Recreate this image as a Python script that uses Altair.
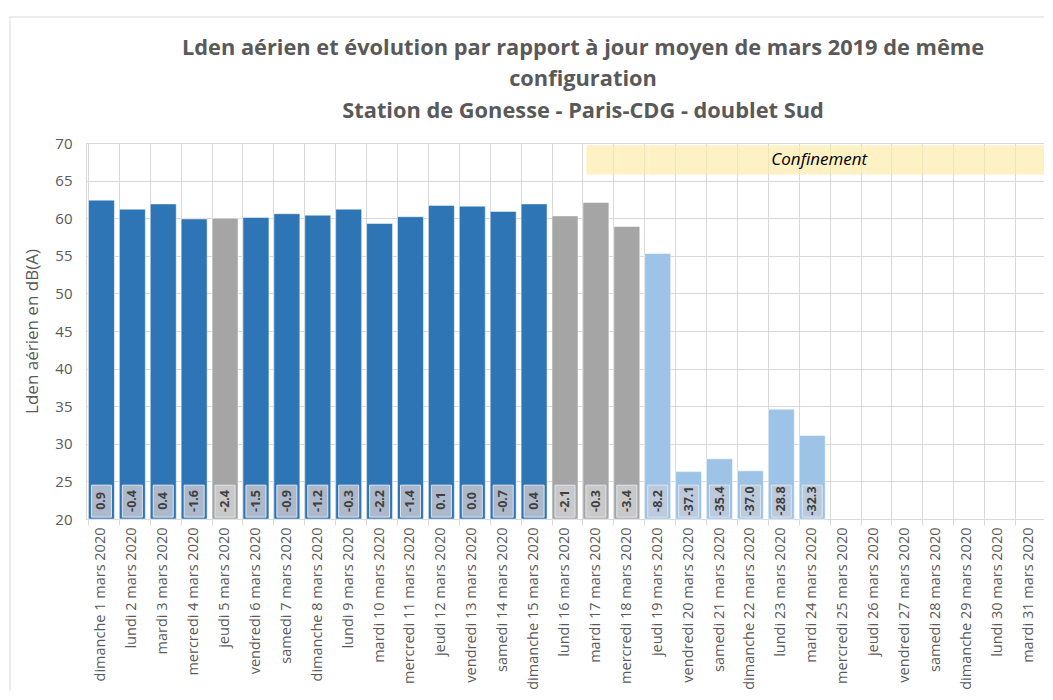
import altair as alt
import pandas as pd

days = [
    "dimanche 1 mars 2020", "lundi 2 mars 2020", "mardi 3 mars 2020", "mercredi 4 mars 2020",
    "jeudi 5 mars 2020", "vendredi 6 mars 2020", "samedi 7 mars 2020", "dimanche 8 mars 2020",
    "lundi 9 mars 2020", "mardi 10 mars 2020", "mercredi 11 mars 2020", "jeudi 12 mars 2020",
    "vendredi 13 mars 2020", "samedi 14 mars 2020", "dimanche 15 mars 2020", "lundi 16 mars 2020",
    "mardi 17 mars 2020", "mercredi 18 mars 2020", "jeudi 19 mars 2020", "vendredi 20 mars 2020",
    "samedi 21 mars 2020", "dimanche 22 mars 2020", "lundi 23 mars 2020", "mardi 24 mars 2020",
    "mercredi 25 mars 2020", "jeudi 26 mars 2020", "vendredi 27 mars 2020", "samedi 28 mars 2020",
    "dimanche 29 mars 2020", "lundi 30 mars 2020", "mardi 31 mars 2020",
]
lden = [62.4, 61.2, 61.9, 59.9, 60.0, 60.1, 60.6, 60.4, 61.2, 59.3, 60.2, 61.7,
        61.6, 60.9, 61.9, 60.3, 62.1, 58.9, 55.3, 26.3, 28.0, 26.4, 34.6, 31.1]
evolution = [0.9, -0.4, 0.4, -1.6, -2.4, -1.5, -0.9, -1.2, -0.3, -2.2, -1.4, 0.1,
             0.0, -0.7, 0.4, -2.1, -0.3, -3.4, -8.2, -37.1, -35.4, -37.0, -28.8, -32.3]
groups = ["normal", "normal", "normal", "normal", "autre", "normal", "normal", "normal",
          "normal", "normal", "normal", "normal", "normal", "normal", "normal", "autre",
          "autre", "autre", "confinement", "confinement", "confinement", "confinement",
          "confinement", "confinement"]
confinement_days = days[16:]
confinement_label = "Confinement"
y_ticks = [20, 25, 30, 35, 40, 45, 50, 55, 60, 65, 70]

n = len(lden)
df = pd.DataFrame({
    "jour": days[:n],
    "lden": lden,
    "evol": evolution,
    "groupe": groups,
    "label": [f"{v:.1f}" for v in evolution],
})
df_conf = pd.DataFrame({"jour": confinement_days, "y0": 65.8, "y1": 69.7})
df_conf_txt = pd.DataFrame({"jour": ["mardi 24 mars 2020"], "y": [67.7], "t": [confinement_label]})
df_frame = pd.DataFrame({"k": [0]})

FONT = "Open Sans"
GRID = "#d9d9d9"
TXT = "#595959"

xscale = alt.Scale(domain=days, paddingInner=0.16, paddingOuter=0.08)
yscale = alt.Scale(domain=[20, 70], nice=False, zero=False)

x_axis = alt.Axis(
    title=None, labelAngle=270, labelAlign="right", labelBaseline="middle",
    labelFont=FONT, labelFontSize=14.5, labelColor=TXT, labelPadding=2,
    bandPosition=0, labelOffset=0, grid=True, gridColor=GRID,
    tickColor=GRID, tickSize=6, domainColor=GRID, labelOverlap=False,
)
y_axis = alt.Axis(
    title="Lden aérien en dB(A)", values=y_ticks, labelOverlap=False,
    labelFont=FONT, labelFontSize=15, labelColor=TXT, labelPadding=14,
    titleFont=FONT, titleFontSize=17, titleFontWeight="normal", titleColor=TXT,
    titlePadding=13, grid=True, gridColor=GRID, ticks=False, domain=False,
)

X = alt.X("jour:N", scale=xscale, sort=days, axis=x_axis)


def Y(field):
    return alt.Y(field, scale=yscale, axis=y_axis)


def YD(v):
    return alt.YDatum(v, scale=yscale, axis=y_axis)


frame = alt.Chart(df_frame).mark_rect(
    fill=None, stroke=GRID, strokeWidth=1, clip=False
).encode(
    x=alt.value(-76), x2=alt.value(1100), y=alt.value(-126), y2=alt.value(700),
)

conf = alt.Chart(df_conf).mark_bar(
    color="#fde9a5", opacity=0.65, width=alt.RelativeBandSize(1.19),
    xOffset=6, clip=True,
).encode(
    x=X,
    y=Y("y0:Q"),
    y2="y1:Q",
)

conf_txt = alt.Chart(df_conf_txt).mark_text(
    font=FONT, fontSize=17, fontStyle="italic", color="#000000", dx=7
).encode(
    x=X,
    y=Y("y:Q"),
    text="t:N",
)

bars = alt.Chart(df).mark_bar(stroke="#ffffff", strokeWidth=1, strokeOpacity=0.5).encode(
    x=X,
    y=Y("lden:Q"),
    y2=alt.datum(20),
    color=alt.Color("groupe:N", legend=None,
                    scale=alt.Scale(domain=["normal", "autre", "confinement"],
                                    range=["#2e75b6", "#a5a5a5", "#9dc3e6"])),
)

boxes = alt.Chart(df).mark_bar(width=20, stroke="#dde5f0", strokeWidth=1).encode(
    x=X,
    y=YD(20.25),
    y2=alt.datum(24.5),
    fill=alt.Fill("groupe:N", legend=None,
                  scale=alt.Scale(domain=["normal", "autre", "confinement"],
                                  range=["#adb9ca", "#c9c9c9", "#bdcadb"])),
)

labels = alt.Chart(df).mark_text(
    angle=270, font=FONT, fontSize=12.5, fontWeight="bold", color="#404040"
).encode(
    x=X,
    y=YD(22.4),
    text="label:N",
)

chart = alt.layer(frame, conf, bars, boxes, labels, conf_txt).resolve_scale(
    color="independent", fill="independent"
).properties(
    width=958,
    height=376,
    title=alt.TitleParams(
        text=["Lden aérien et évolution par rapport à jour moyen de mars 2019 de même",
              "configuration",
              "Station de Gonesse - Paris-CDG - doublet Sud"],
        font=FONT, fontSize=21.8, fontWeight="bold", color=TXT,
        lineHeight=31.5, anchor="middle", dx=18, offset=-106, frame="group",
    ),
    padding={"left": 78, "top": 135, "right": 0, "bottom": 172},
    autosize=alt.AutoSizeParams(type="none"),
).configure_view(stroke=GRID)

chart.save("out.html", embed_options={"renderer": "svg", "actions": False})
